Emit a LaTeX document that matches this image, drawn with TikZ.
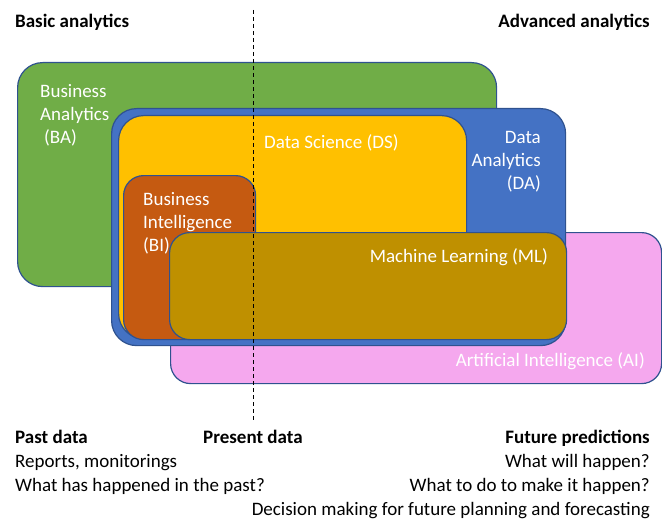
\documentclass[tikz,border=0pt]{standalone}
\usepackage{fontspec}
\setmainfont{Carlito}
\usetikzlibrary{arrows.meta}
\definecolor{baGreen}{HTML}{70AD47}
\definecolor{daBlue}{HTML}{4472C4}
\definecolor{dsYellow}{HTML}{FFC000}
\definecolor{biOrange}{HTML}{C55A11}
\definecolor{mlOlive}{HTML}{BF9000}
\definecolor{aiPink}{HTML}{F5A8EE}
\definecolor{edgeBlue}{HTML}{2F528F}
\newcommand{\diagfont}{\fontsize{19}{23}\selectfont}
\tikzstyle{box} = [rectangle, rounded corners = 25pt, draw = edgeBlue, line width = 1.2pt, anchor = north west, inner sep = 0pt]
\tikzstyle{boxText} = [text = white, font = \diagfont, inner sep = 0pt, align = left]
\tikzstyle{note} = [text = black, font = \diagfont, inner sep = 0pt]
\tikzstyle{heading} = [text = black, font = \diagfont\bfseries, inner sep = 0pt]

\begin{document}
\begin{tikzpicture}[x = 1pt, y = -1pt]
\useasboundingbox (0,0) rectangle (662,519);

% boxes, back to front
\node (baBox) [box, fill = baGreen, minimum width = 479pt, minimum height = 224pt] at (17,62) {};
\node (aiBox) [box, rounded corners = 20pt, fill = aiPink, minimum width = 491pt, minimum height = 151pt] at (170,232) {};
\node (daBox) [box, fill = daBlue, minimum width = 454pt, minimum height = 237pt] at (111,108) {};
\node (dsBox) [box, fill = dsYellow, minimum width = 348pt, minimum height = 223pt] at (118,115) {};
\node (biBox) [box, rounded corners = 20pt, fill = biOrange, minimum width = 132pt, minimum height = 164pt] at (123,175) {};
\node (mlBox) [box, rounded corners = 20pt, fill = mlOlive, minimum width = 397pt, minimum height = 107pt] at (169,232) {};

% box labels (base = last line)
\node (baText) [boxText, anchor = base west] at (40,143) {Business\\Analytics\\\hspace*{4pt}(BA)};
\node (dsText) [boxText, anchor = base west] at (264,149) {Data Science (DS)};
\node (daText) [boxText, align = right, anchor = base east] at (541,189) {Data\\Analytics\\(DA)};
\node (biText) [boxText, anchor = base west] at (143,251) {Business\\Intelligence\\(BI)};
\node (mlText) [boxText, anchor = base east] at (548,262) {Machine Learning (ML)};
\node (aiText) [boxText, anchor = base east] at (645,366) {Artificial Intelligence (AI)};

% present line
\coordinate (nowTop) at (253,10);
\coordinate (nowBottom) at (253,421);
\draw [dash pattern = on 4pt off 3pt, line width = 0.8pt] (nowTop) -- (nowBottom);

% headings
\node (basic) [heading, anchor = base west] at (15,28) {Basic analytics};
\node (advanced) [heading, anchor = base east] at (650,28) {Advanced analytics};
\node (past) [heading, anchor = base west] at (15,443) {Past data};
\node (present) [heading, anchor = base west] at (203,443) {Present data};
\node (future) [heading, anchor = base east] at (650,443) {Future predictions};

% notes
\node (reports) [note, anchor = base west] at (15,467) {Reports, monitorings};
\node (happened) [note, anchor = base west] at (15,491) {What has happened in the past?};
\node (willHappen) [note, anchor = base east] at (650,467) {What will happen?};
\node (toDo) [note, anchor = base east] at (650,491) {What to do to make it happen?};
\node (decision) [note, anchor = base east] at (650,515) {Decision making for future planning and forecasting};
\end{tikzpicture}
\end{document}
